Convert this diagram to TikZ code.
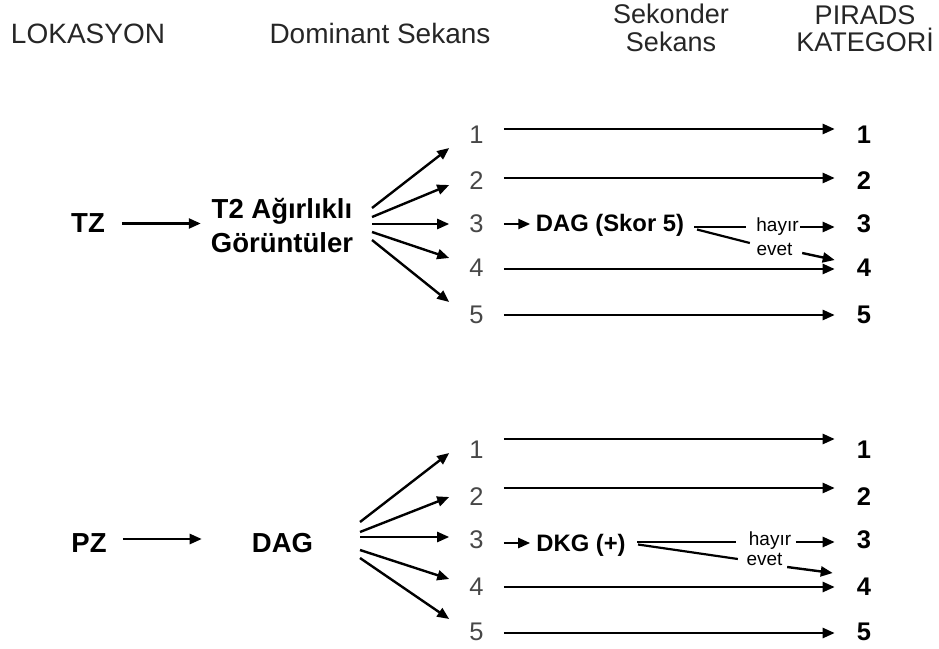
\documentclass[tikz,border=0pt]{standalone}
\usepackage{fontspec}
\setmainfont{Liberation Sans}
\usetikzlibrary{arrows.meta,calc}
\begin{document}
\begin{tikzpicture}[x=1pt,y=-1pt,
  arr/.style={line width=2.4pt,-{Triangle[length=12pt,width=10pt]}},
  ln/.style={line width=2.2pt},
  head/.style={font=\fontsize{28}{25}\selectfont, text=black!85, inner sep=0pt, align=center},
  headtwo/.style={head, font=\fontsize{27}{27.5}\selectfont},
  lab/.style={font=\fontsize{27.5}{34}\selectfont\bfseries, inner sep=1pt, align=center},
  sec/.style={font=\fontsize{23.8}{28}\selectfont\bfseries, inner xsep=2pt, inner ysep=0pt},
  small/.style={font=\fontsize{19}{22}\selectfont, inner sep=0pt},
  numl/.style={font=\fontsize{25.5}{30}\selectfont, text=black!72, inner xsep=20pt, inner ysep=0pt},
  numr/.style={font=\fontsize{25.5}{30}\selectfont\bfseries, inner xsep=22pt, inner ysep=0pt}]
\useasboundingbox (0,0) rectangle (939,648);

% column headings
\node[head, anchor=base] (hlok) at (88,43) {LOKASYON};
\node[head, anchor=base] (hdom) at (380,43) {Dominant Sekans};
\node[headtwo] (hsek) at (671,28) {Sekonder\\Sekans};
\node[headtwo] (hpir) at (865,28.5) {PIRADS\\KATEGORİ};

% ---------------- TZ ----------------
\node[lab] (tz) at (88,223.5) {TZ};
\node[lab] (t2) at (282,225.5) {T2 Ağırlıklı\\Görüntüler};
\draw[arr, shorten <=16pt, shorten >=9pt] (tz.east) -- (tz.east -| t2.west);

\foreach \i/\dy/\fy/\sy in {1/135/148/208, 2/181/185/217, 3/224/224/224, 4/268/258/232, 5/315/302/240}{
  \node[numl] (tl\i) at (476.5,\dy) {\i};
  \node[numr] (tr\i) at (864,\dy) {\i};
  \coordinate (ts\i) at (372,\sy);
  \draw[arr] (ts\i) -- ([yshift={\dy-\fy}]tl\i.west);
}
\foreach \i/\dy/\hy in {1/135/129, 2/181/178, 4/268/269, 5/315/315}{
  \draw[arr] ([yshift={\dy-\hy}]tl\i.east) -- ([yshift={\dy-\hy}]tr\i.west);
}

% secondary sequence, TZ
\node[sec] (tdag) at (610,225) {DAG (Skor 5)};
\draw[arr, shorten >=3.5pt] (tl3.east) -- (tl3.east -| tdag.west);
\coordinate (tb1) at (694,227);
\coordinate (tb2) at (697,229.5);
\node[small] (thayir) at (777.5,227) {hayır};
\node[small] (tevet) at (774.5,249) {evet};
\draw[ln] (tb1) -- ([xshift=-10pt]thayir.west);
\draw[ln] (tb2) -- ([xshift=-6.5pt,yshift=6pt]tevet.west);
\draw[arr, shorten <=1.5pt] (thayir.east) -- (thayir.east -| tr3.west);
\draw[arr] ([xshift=9.5pt,yshift=-4pt]tevet.east) -- ([yshift=8pt]tr4.west);

% ---------------- PZ ----------------
\node[lab] (pz) at (89,543) {PZ};
\node[lab] (pdag) at (282.5,543) {DAG};
\draw[arr, shorten <=15pt, shorten >=49pt] ([yshift=4pt]pz.east) -- ([yshift=4pt]pz.east -| pdag.west);

\foreach \i/\dy/\fy/\sy in {1/450/453/522, 2/497/497/532, 3/540/537/537, 4/587/579/550, 5/632/619/558}{
  \node[numl] (pl\i) at (476.5,\dy) {\i};
  \node[numr] (pr\i) at (864,\dy) {\i};
  \coordinate (ps\i) at (360,\sy);
  \draw[arr] (ps\i) -- ([yshift={\dy-\fy}]pl\i.west);
}
\foreach \i/\dy/\hy in {1/450/439, 2/497/488, 4/587/587, 5/632/633}{
  \draw[arr] ([yshift={\dy-\hy}]pl\i.east) -- ([yshift={\dy-\hy}]pr\i.west);
}

% secondary sequence, PZ
\node[sec] (pdkg) at (581,545) {DKG (+)};
\draw[arr, shorten >=4pt] ([yshift=-3pt]pl3.east) -- ([yshift=-3pt]pl3.east -| pdkg.west);
\coordinate (pb1) at (637,542);
\coordinate (pb2) at (638,544.5);
\node[small] (phayir) at (770,541) {hayır};
\node[small] (pevet) at (764.5,559) {evet};
\draw[ln] (pb1) -- ([xshift=-12.5pt,yshift=-1pt]phayir.west);
\draw[ln] (pb2) -- ([xshift=-8.5pt]pevet.west);
\draw[arr, shorten <=4.5pt] ([yshift=-1pt]phayir.east) -- ([yshift=-2pt]pr3.west);
\draw[arr] ([xshift=4.5pt,yshift=-8pt]pevet.east) -- ([xshift=-2pt,yshift=14pt]pr4.west);
\end{tikzpicture}
\end{document}
